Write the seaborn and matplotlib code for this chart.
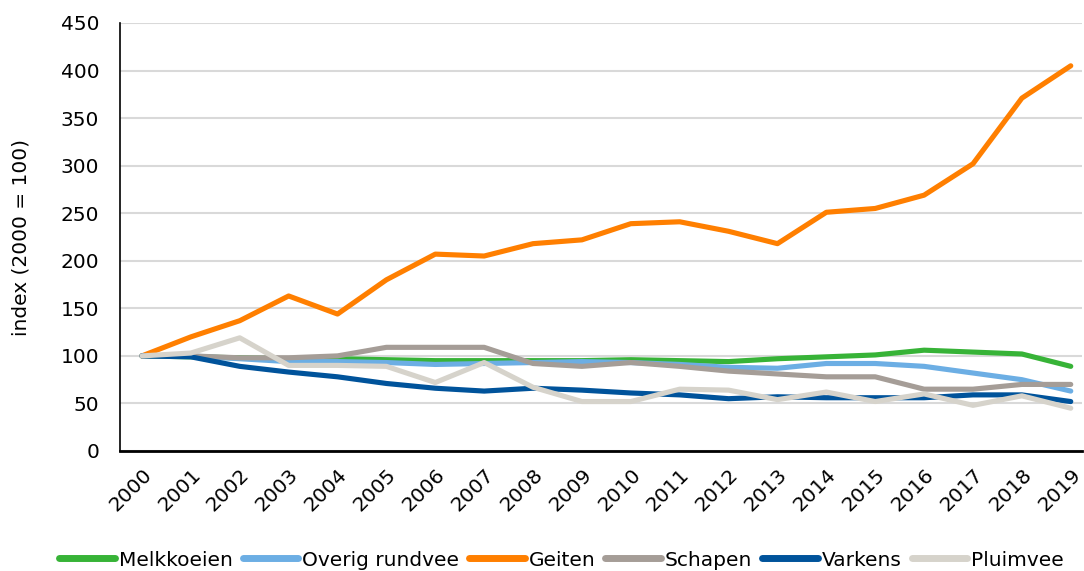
"""Index of livestock numbers per animal category, 2000 = 100."""

import matplotlib

matplotlib.use("Agg")
import matplotlib.pyplot as plt  # noqa: E402
import pandas as pd  # noqa: E402
import seaborn as sns  # noqa: E402

years = list(range(2000, 2020))

melkkoeien = [100, 99, 98, 97, 97, 96, 95, 95, 95, 95, 96, 95, 94, 97, 99, 101, 106, 104, 102, 89]
overig_rundvee = [100, 100, 97, 94, 94, 93, 91, 92, 93, 94, 93, 91, 88, 87, 92, 92, 89, 82, 75, 63]
geiten = [100, 120, 137, 163, 144, 180, 207, 205, 218, 222, 239, 241, 231, 218, 251, 255, 269, 302, 371, 405]
schapen = [100, 100, 98, 98, 100, 109, 109, 109, 92, 89, 93, 89, 84, 81, 78, 78, 65, 65, 70, 70]
varkens = [100, 99, 89, 83, 78, 71, 66, 63, 66, 64, 61, 59, 55, 57, 56, 56, 56, 59, 59, 52]
pluimvee = [100, 103, 119, 90, 90, 89, 72, 93, 67, 52, 52, 65, 64, 54, 62, 52, 60, 48, 58, 45]

series = {
    "Melkkoeien": melkkoeien,
    "Overig rundvee": overig_rundvee,
    "Geiten": geiten,
    "Schapen": schapen,
    "Varkens": varkens,
    "Pluimvee": pluimvee,
}
colors = ["#37b337", "#6caee4", "#ff7f00", "#a59d97", "#00539b", "#d6d3cb"]

df = pd.DataFrame(
    [(y, name, v) for name, vals in series.items() for y, v in zip(years, vals)],
    columns=["jaar", "categorie", "index"],
)

sns.set_style("white")
plt.rcParams["font.family"] = ["DejaVu Sans"]
plt.rcParams["text.color"] = "black"
plt.rcParams["axes.labelcolor"] = "black"
plt.rcParams["xtick.color"] = "black"
plt.rcParams["ytick.color"] = "black"
FS = 14.5

fig = plt.figure(figsize=(10.84, 5.71), dpi=100)
ax = fig.add_axes([120 / 1084, 120 / 571, 962 / 1084, 428 / 571])

sns.lineplot(
    data=df,
    x="jaar",
    y="index",
    hue="categorie",
    hue_order=list(series),
    palette=colors,
    linewidth=3.7,
    ax=ax,
    legend=True,
)

ax.set_xlim(1999.55, 2019.23)
ax.set_ylim(0, 450)
ax.set_yticks(range(0, 451, 50))
ax.set_xticks(years)
ax.set_xticklabels([str(y) for y in years], rotation=45, ha="right",
                   rotation_mode="anchor", fontsize=FS)
ax.tick_params(axis="y", labelsize=FS, length=0, pad=15)
ax.tick_params(axis="x", length=0, pad=10)
ax.yaxis.grid(True, color="#d9d9d9", linewidth=1.5)
ax.set_axisbelow(True)
for side in ("top", "right"):
    ax.spines[side].set_visible(False)
ax.spines["left"].set_color("black")
ax.spines["left"].set_linewidth(1.2)
ax.spines["bottom"].set_color("black")
ax.spines["bottom"].set_linewidth(2)
ax.set_xlabel("")
ax.set_ylabel("index (2000 = 100)", fontsize=FS)
ax.yaxis.set_label_coords(-89 / 962, 0.5)

handles, labels = ax.get_legend_handles_labels()
for h in handles:
    h.set_linewidth(5)
ax.get_legend().remove()
fig.legend(
    handles, labels,
    loc="center", bbox_to_anchor=(0.518, 1 - 560 / 571), ncol=6,
    frameon=False, fontsize=FS, handlelength=2.75, handletextpad=0.2,
    columnspacing=0.5, borderaxespad=0,
)

fig.savefig("out.png", dpi=100)
